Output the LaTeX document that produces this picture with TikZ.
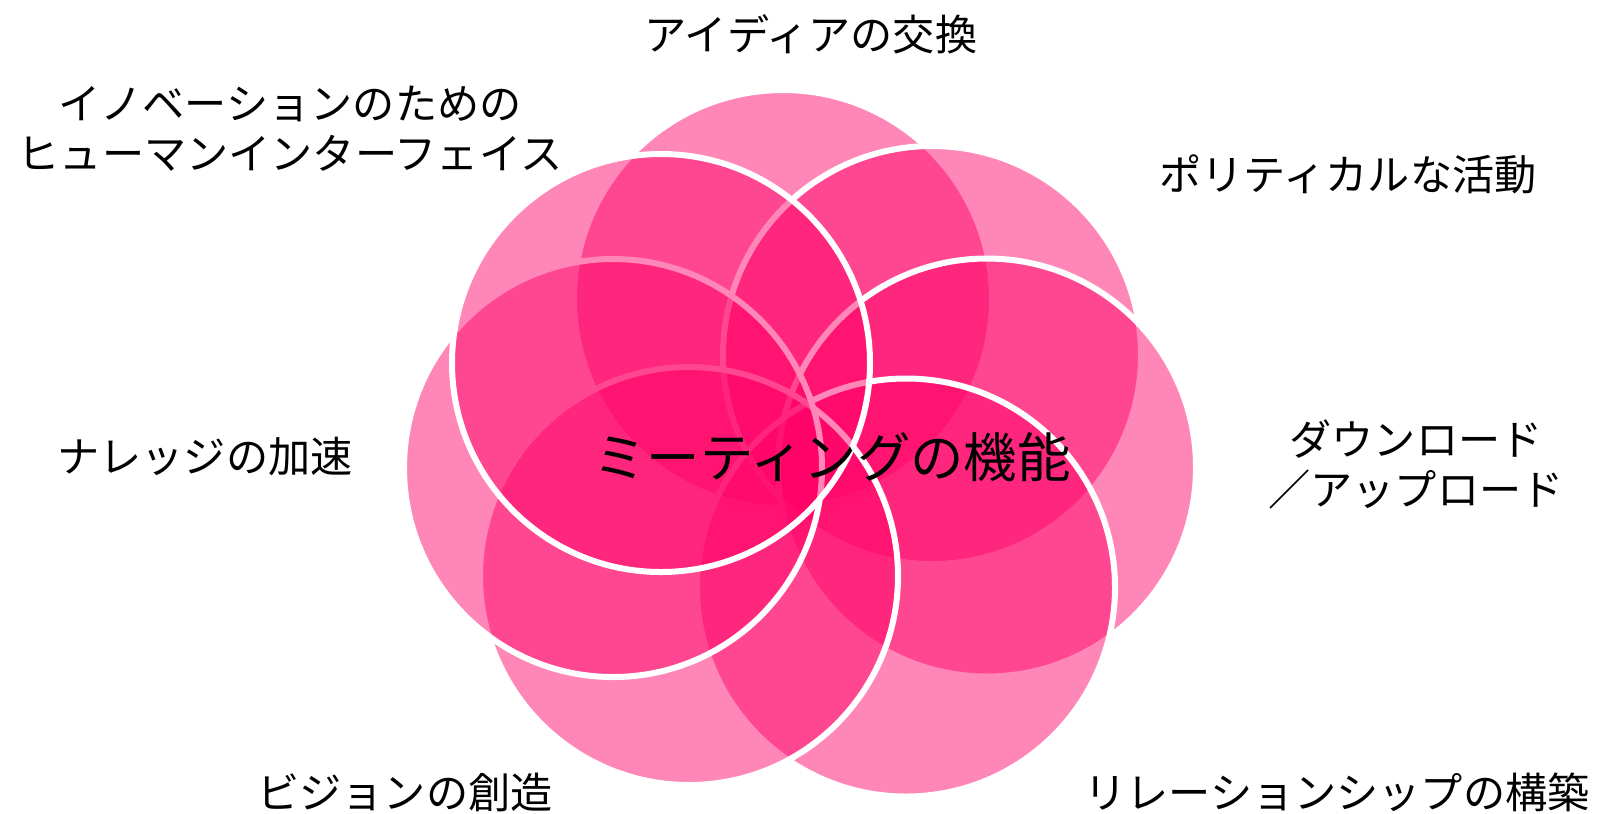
\documentclass[tikz,border=0pt]{standalone}
\usepackage{fontspec}
\setmainfont{Noto Sans CJK JP}
\definecolor{petalpink}{RGB}{255,0,102}
\begin{document}
\begin{tikzpicture}[
	petal/.style={fill=petalpink, fill opacity=0.47, draw=white, line width=0.06cm},
	petaltext/.style={font=\fontsize{12}{14.2}\selectfont, align=center},
	coretext/.style={font=\fontsize{15.2}{18}\selectfont}]
				\useasboundingbox (0,0) rectangle (15.97,-8.13);
				\draw[petal] (7.83,-2.99) circle (2.09cm);
				\draw[petal] (9.32,-3.55) circle (2.09cm);
				\draw[petal] (9.87,-4.675) circle (2.09cm);
				\draw[petal] (9.06,-5.875) circle (2.09cm);
				\draw[petal] (6.89,-5.76) circle (2.09cm);
				\draw[petal] (6.13,-4.68) circle (2.09cm);
				\draw[petal] (6.61,-3.63) circle (2.09cm);
				\node[coretext] (core) at (8.32,-4.57) {ミーティングの機能};
				\node[petaltext] (idea) at (8.11,-0.34) {アイディアの交換};
				\node[petaltext] (innov) at (2.90,-1.29) {イノベーションのための\\ヒューマンインターフェイス};
				\node[petaltext] (pol) at (13.48,-1.74) {ポリティカルな活動};
				\node[petaltext] (load) at (14.16,-4.64) {ダウンロード\\／アップロード};
				\node[petaltext] (rel) at (13.37,-7.92) {リレーションシップの構築};
				\node[petaltext] (vis) at (4.05,-7.92) {ビジョンの創造};
				\node[petaltext] (know) at (2.05,-4.56) {ナレッジの加速};
\end{tikzpicture}
\end{document}
